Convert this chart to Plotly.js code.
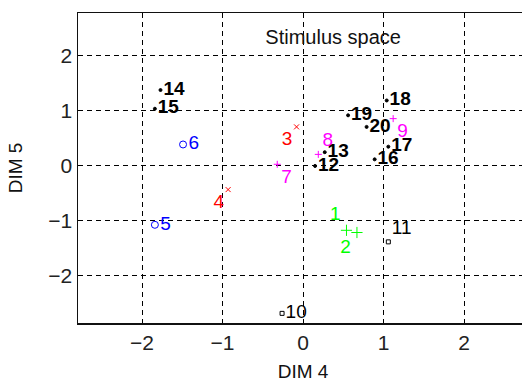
<!DOCTYPE html>
<html>
<head>
<meta charset="utf-8">
<script src="https://cdn.plot.ly/plotly-3.0.1.min.js"></script>
<style>
html,body{margin:0;padding:0;overflow:hidden;background:#fff;}
#chart{width:540px;height:385px;}
</style>
</head>
<body>
<div id="chart"></div>
<script>
// Stimulus labels and coordinates (DIM 4, DIM 5)
const stimulusLabels = ['1','2','3','4','5','6','7','8','9','10','11','12','13','14','15','16','17','18','19','20'];
const dim4 = [0.54, 0.67, -0.08, -0.93, -1.84, -1.49, -0.32, 0.19, 1.12, -0.26, 1.06, 0.15, 0.27, -1.77, -1.84, 0.89, 1.06, 1.04, 0.56, 0.79];
const dim5 = [-1.17, -1.21, 0.71, -0.43, -1.07, 0.39, 0.03, 0.21, 0.86, -2.68, -1.38, 0.00, 0.25, 1.38, 1.04, 0.12, 0.35, 1.19, 0.92, 0.71];
// group membership of each stimulus
const groupOf = [0,0,1,1,2,2,3,3,3,4,4,5,5,5,5,5,5,5,5,5];

// styles
const groupStyles = [
  {color:'#00ff00', symbol:'cross-thin-open', size:8, weight:'normal'},
  {color:'#ff0000', symbol:'x-thin-open', size:5, weight:'normal'},
  {color:'#0000ff', symbol:'circle-open', size:7, weight:'normal'},
  {color:'#ff00ff', symbol:'cross-thin-open', size:5, weight:'normal'},
  {color:'#000000', symbol:'square-open', size:4, weight:'normal'},
  {color:'#000000', symbol:'circle', size:3, weight:'bold'}
];
const labelPos = ['top left','bottom left','bottom left','bottom left','middle right','middle right',
  'bottom right','top right','bottom right','middle right','top right','middle right','middle right',
  'middle right','middle right','middle right','middle right','middle right','middle right','middle right'];

const FONT = 'Liberation Sans, Arial, Helvetica, sans-serif';
const traces = groupStyles.map((st, g) => {
  const idx = groupOf.map((v,i)=>v===g?i:-1).filter(i=>i>=0);
  return {
    type:'scatter', mode:'markers+text',
    x: idx.map(i=>dim4[i]), y: idx.map(i=>dim5[i]),
    text: idx.map(i=>stimulusLabels[i]),
    textposition: idx.map(i=>labelPos[i]),
    textfont:{family:FONT, size:19, color:st.color, weight:st.weight},
    marker:{symbol:st.symbol, size:st.size, color:st.color, line:{color:st.color, width:1}},
    cliponaxis:false, hoverinfo:'skip', showlegend:false
  };
});

const axisCommon = {
  showgrid:true, gridcolor:'#000', gridwidth:1, griddash:'5px,4px',
  zeroline:false, showline:true, linecolor:'#111', linewidth:1.5, mirror:true,
  ticks:'inside', ticklen:4, tickcolor:'#000', dtick:1,
  tickfont:{family:FONT, size:21, color:'#222'},
  automargin:false
};

const layout = {
  width:540, height:385,
  margin:{l:78, r:12, t:13, b:62},
  paper_bgcolor:'#fff', plot_bgcolor:'#fff',
  title:{text:'Stimulus space', font:{family:FONT, size:20, color:'#111'},
         xref:'paper', yref:'paper', x:0.567, y:0.9226, xanchor:'center', yanchor:'middle'},
  xaxis:Object.assign({}, axisCommon, {range:[-2.795, 2.795], tickvals:[-2,-1,0,1,2],
    title:{text:'DIM 4', font:{family:FONT, size:19, color:'#111'}, standoff:12}}),
  yaxis:Object.assign({}, axisCommon, {range:[-2.855, 2.78], tickvals:[-2,-1,0,1,2],
    title:{text:'DIM 5', font:{family:FONT, size:19, color:'#111'}, standoff:20}}),
  font:{family:FONT}
};

Plotly.newPlot('chart', traces, layout, {displayModeBar:false, staticPlot:true});
</script>
</body>
</html>
